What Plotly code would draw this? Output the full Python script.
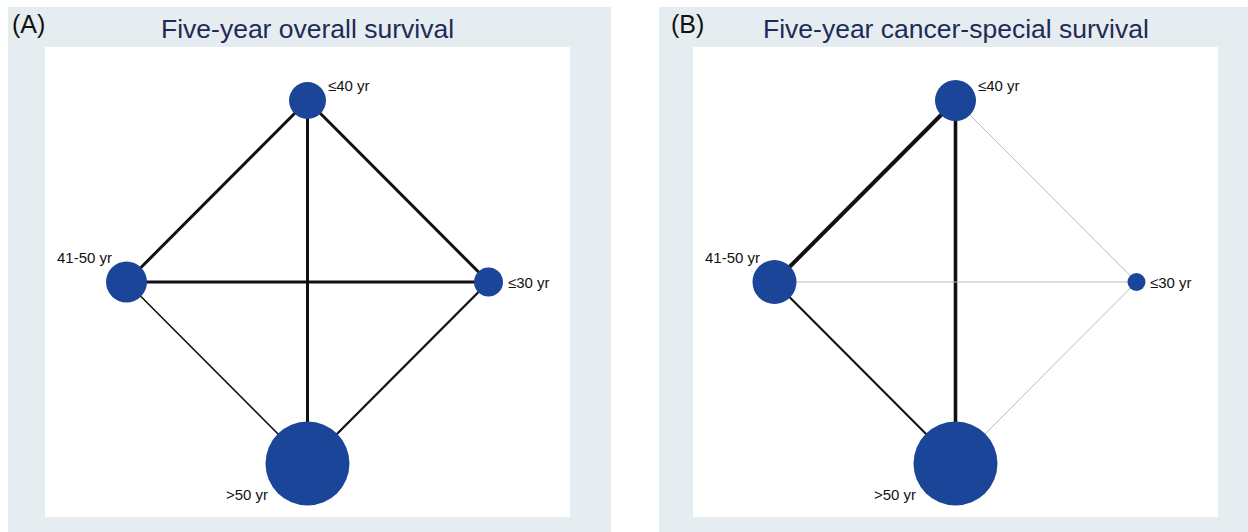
import plotly.graph_objects as go

# Network of age groups: node layout (diamond) and node sizes / edge widths per endpoint
nodes = ["≤40 yr", "41-50 yr", "≤30 yr", ">50 yr"]
node_x = [0, -1, 1, 0]
node_y = [1, 0, 0, -1]

edges = [(0, 1), (0, 2), (0, 3), (1, 2), (1, 3), (2, 3)]

os_node_size = [37, 41, 29, 84]
os_edge_width = [3.0, 3.0, 3.0, 3.0, 1.6, 2.3]

css_node_size = [41, 44, 18, 84]
css_edge_width = [4.0, 1.0, 3.6, 1.0, 2.1, 1.0]

titles = ["Five-year overall survival", "Five-year cancer-special survival"]
panel_tags = ["(A)", "(B)"]

W, H = 1248, 532
NODE_COLOR = "#1b4598"
PANEL_BG = "#e6edf0"
TITLE_COLOR = "#1f2b57"
FONT = "Liberation Sans, Arial, sans-serif"

# pixel frames of each panel: outer tinted box and inner white plotting area
outer = [(8, 7, 611, 532), (659, 7, 1262, 532)]
inner = [(45, 47, 570, 517), (693, 47, 1218, 517)]


def px(x):
    return x / W


def py(y):
    return 1 - y / H


fig = go.Figure()
shapes = []
annotations = []

panels = [
    (os_node_size, os_edge_width, lambda w: "#111111"),
    (css_node_size, css_edge_width, lambda w: "#111111" if w >= 1.5 else "#b9b9b9"),
]

label_offsets = [
    # (xanchor, xshift, yshift) for each node label
    [("left", 18, 15), ("right", -13, 25), ("left", 17, 0), ("right", -38, -31)],
    [("left", 20, 15), ("right", -13, 25), ("left", 11, 0), ("right", -38, -31)],
]

for p, (sizes, widths, colorfn) in enumerate(panels):
    xa = "x" if p == 0 else "x2"
    ya = "y" if p == 0 else "y2"
    ox0, oy0, ox1, oy1 = outer[p]
    ix0, iy0, ix1, iy1 = inner[p]
    shapes.append(dict(type="rect", xref="paper", yref="paper", layer="below",
                       x0=px(ox0), x1=px(ox1), y0=py(oy1), y1=py(oy0),
                       fillcolor=PANEL_BG, line=dict(width=0)))
    shapes.append(dict(type="rect", xref="paper", yref="paper", layer="below",
                       x0=px(ix0), x1=px(ix1), y0=py(iy1), y1=py(iy0),
                       fillcolor="white", line=dict(width=0)))

    for (a, b), w in zip(edges, widths):
        fig.add_trace(go.Scatter(
            x=[node_x[a], node_x[b]], y=[node_y[a], node_y[b]],
            mode="lines", line=dict(color=colorfn(w), width=w),
            xaxis=xa, yaxis=ya, showlegend=False, hoverinfo="skip"))

    fig.add_trace(go.Scatter(
        x=node_x, y=node_y, mode="markers", text=nodes,
        marker=dict(size=sizes, color=NODE_COLOR, opacity=1, line=dict(width=0)),
        xaxis=xa, yaxis=ya, showlegend=False))

    for i, name in enumerate(nodes):
        anc, xs, ys = label_offsets[p][i]
        annotations.append(dict(
            x=node_x[i], y=node_y[i], xref=xa, yref=ya, text=name,
            showarrow=False, xanchor=anc, yanchor="middle",
            xshift=xs, yshift=ys,
            font=dict(family=FONT, size=15, color="#111111")))

    cx = (ix0 + ix1) / 2
    annotations.append(dict(
        x=px(cx), y=py(29), xref="paper", yref="paper", text=titles[p],
        showarrow=False, xanchor="center", yanchor="middle",
        font=dict(family=FONT, size=26.5, color=TITLE_COLOR)))
    annotations.append(dict(
        x=px(10 if p == 0 else 669), y=py(24), xref="paper", yref="paper",
        text=panel_tags[p], showarrow=False, xanchor="left", yanchor="middle",
        font=dict(family=FONT, size=25, color="#111111")))

axis_common = dict(visible=False, showgrid=False, zeroline=False, fixedrange=True)
half_x = (inner[0][2] - inner[0][0]) / 2 / 181
half_y = (inner[0][3] - inner[0][1]) / 2 / 181.5

fig.update_layout(
    width=W, height=H,
    margin=dict(l=0, r=0, t=0, b=0),
    paper_bgcolor="white", plot_bgcolor="rgba(0,0,0,0)",
    xaxis=dict(domain=[px(inner[0][0]), px(inner[0][2])], range=[-half_x, half_x], **axis_common),
    yaxis=dict(domain=[py(inner[0][3]), py(inner[0][1])], range=[-half_y, half_y], **axis_common),
    xaxis2=dict(domain=[px(inner[1][0]), px(inner[1][2])], range=[-half_x, half_x], **axis_common),
    yaxis2=dict(domain=[py(inner[1][3]), py(inner[1][1])], range=[-half_y, half_y], **axis_common),
    shapes=shapes,
    annotations=annotations,
)

fig.write_html("out.html")
